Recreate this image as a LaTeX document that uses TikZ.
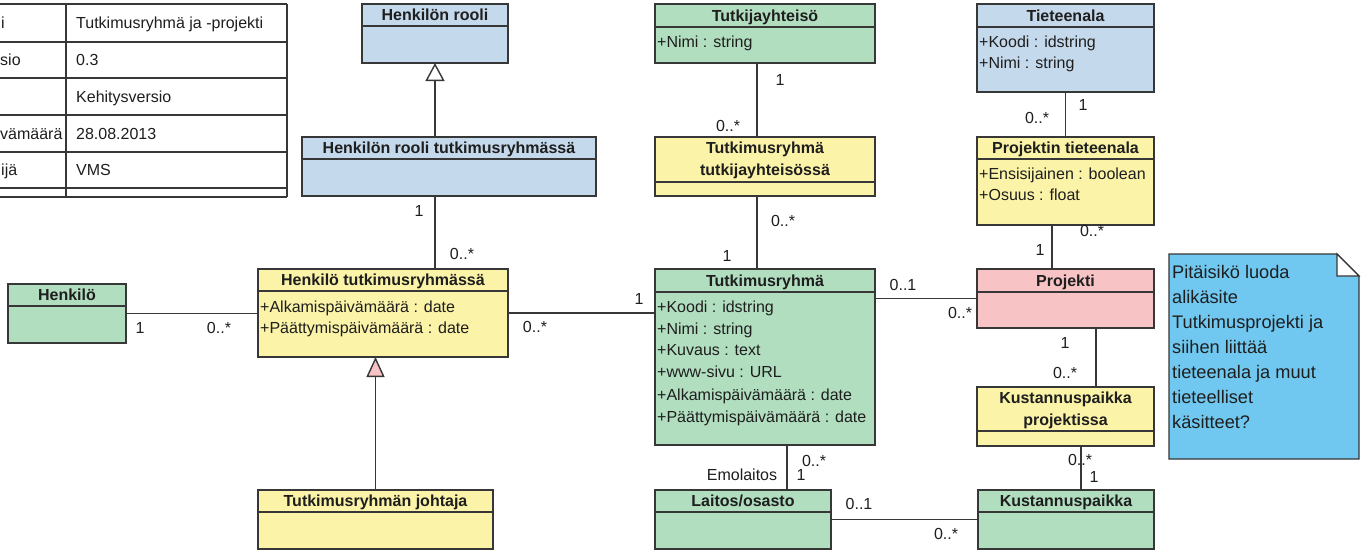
\documentclass[tikz,border=0pt]{standalone}
\usepackage{fontspec}
\setmainfont{Liberation Sans}
\usetikzlibrary{arrows.meta,calc}
\definecolor{cblue}{RGB}{197,217,236}
\definecolor{cgreen}{RGB}{178,222,192}
\definecolor{cyellow}{RGB}{251,243,168}
\definecolor{cpink}{RGB}{248,195,197}
\definecolor{cnote}{RGB}{112,200,240}
\definecolor{cline}{RGB}{55,55,55}
\definecolor{ctext}{RGB}{30,30,30}
\tikzset{
  classbox/.style={draw=cline, line width=1.3pt, inner sep=0pt, outer sep=0pt},
  boxline/.style={draw=cline, line width=1.3pt},
  titletext/.style={font=\fontsize{16}{22}\selectfont\bfseries, text=ctext, inner sep=0pt, text height=11pt, text depth=0pt},
  titletwo/.style={font=\fontsize{16}{22}\selectfont\bfseries, text=ctext, inner sep=0pt, align=center},
  attrtext/.style={font=\fontsize{16}{22}\selectfont, text=ctext, inner sep=0pt, anchor=west, text height=11pt, text depth=0pt},
  mult/.style={font=\fontsize{16}{18}\selectfont, text=ctext, inner sep=0pt, text height=11pt, text depth=0pt},
  assoc/.style={draw=cline, line width=1.4pt},
  tabline/.style={draw=cline, line width=1.3pt},
  notetext/.style={font=\fontsize{18.2}{25}\selectfont, text=ctext, inner sep=0pt, align=left, anchor=north west},
}
% \umlbox{name}{x1}{y1}{x2}{y2}{yheader}{fill}{title}
\newcommand\umlbox[8]{%
  \node[classbox, fill=#7, minimum width={(#4-#2)*1pt}, minimum height={(#5-#3)*1pt}, anchor=north west] (#1) at (#2,#3) {};
  \draw[boxline] (#2,#6) -- (#4,#6);
  \node[titletext] (#1-title) at ({(#2+#4)/2},{(#3+#6)/2}) {#8};
}
\newcommand\umlboxtwo[8]{%
  \node[classbox, fill=#7, minimum width={(#4-#2)*1pt}, minimum height={(#5-#3)*1pt}, anchor=north west] (#1) at (#2,#3) {};
  \draw[boxline] (#2,#6) -- (#4,#6);
  \node[titletwo] (#1-title) at ({(#2+#4)/2},{(#3+#6)/2+1}) {#8};
}
\begin{document}
\begin{tikzpicture}[x=1pt,y=-1pt]
\useasboundingbox (0,0) rectangle (1365,552);
\fill[white] (0,0) rectangle (1365,552);

% ---------- table ----------
\foreach \yy in {4,42,78,115,152,188,197} {\draw[tabline] (0,\yy) -- (287,\yy);}
\draw[tabline] (66,4) -- (66,197);
\draw[tabline] (287,4) -- (287,197);
\node[attrtext] (tl1) at (1,23) {i};
\node[attrtext] (tl2) at (0,60) {sio};
\node[attrtext] (tl4) at (0,133.5) {vämäärä};
\node[attrtext] (tl5) at (1,170) {ijä};
\node[attrtext] (tr1) at (76,23) {Tutkimusryhmä ja -projekti};
\node[attrtext] (tr2) at (76,60) {0.3};
\node[attrtext] (tr3) at (76,96.5) {Kehitysversio};
\node[attrtext] (tr4) at (76,133.5) {28.08.2013};
\node[attrtext] (tr5) at (76,170) {VMS};

% ---------- classes ----------
\umlbox{hr}{362}{4}{508}{63}{26}{cblue}{Henkilön rooli}
\umlbox{hrt}{302}{137}{596}{196}{159}{cblue}{Henkilön rooli tutkimusryhmässä}
\umlbox{henkilo}{8}{284}{126}{343}{306}{cgreen}{Henkilö}
\umlbox{hts}{258}{269}{508}{357}{291}{cyellow}{Henkilö tutkimusryhmässä}
\node[attrtext] (hts-a1) at (260,307) {+Alkamispäivämäärä : date};
\node[attrtext] (hts-a2) at (260,328) {+Päättymispäivämäärä : date};
\umlbox{tj}{258}{490}{493}{549}{512}{cyellow}{Tutkimusryhmän johtaja}

\umlbox{ty}{655}{4}{875}{63}{27}{cgreen}{Tutkijayhteisö}
\node[attrtext] (ty-a1) at (657,42) {+Nimi : string};
\umlboxtwo{trt}{655}{137}{875}{196}{182}{cyellow}{Tutkimusryhmä\\tutkijayhteisössä}
\umlbox{tr}{655}{269}{875}{445}{292}{cgreen}{Tutkimusryhmä}
\node[attrtext] (tr-a1) at (657,307) {+Koodi : idstring};
\node[attrtext] (tr-a2) at (657,328.5) {+Nimi : string};
\node[attrtext] (tr-a3) at (657,350) {+Kuvaus : text};
\node[attrtext] (tr-a4) at (657,372) {+www-sivu : URL};
\node[attrtext] (tr-a5) at (657,394.5) {+Alkamispäivämäärä : date};
\node[attrtext] (tr-a6) at (657,417) {+Päättymispäivämäärä : date};
\umlbox{laitos}{655}{490}{831}{549}{512}{cgreen}{Laitos/osasto}

\umlbox{te}{977}{4}{1154}{92}{27}{cblue}{Tieteenala}
\node[attrtext] (te-a1) at (979,42) {+Koodi : idstring};
\node[attrtext] (te-a2) at (979,63) {+Nimi : string};
\umlbox{pt}{977}{137}{1154}{225}{159}{cyellow}{Projektin tieteenala}
\node[attrtext] (pt-a1) at (979,173.5) {+Ensisijainen : boolean};
\node[attrtext] (pt-a2) at (979,195) {+Osuus : float};
\umlbox{projekti}{977}{269}{1154}{328}{292}{cpink}{Projekti}
\umlboxtwo{kpp}{977}{387}{1154}{446}{431}{cyellow}{Kustannuspaikka\\projektissa}
\umlbox{kp}{978}{490}{1154}{549}{512}{cgreen}{Kustannuspaikka}

% ---------- note ----------
\filldraw[fill=cnote, draw=cline, line width=1.3pt] (1169,254) -- (1337,254) -- (1359,276) -- (1359,459) -- (1169,459) -- cycle;
\filldraw[fill=white, draw=cline, line width=1.1pt] (1337,254) -- (1337,276) -- (1359,276) -- cycle;
\node[notetext] (note) at (1172,265) {Pitäisikö luoda\\alikäsite\\Tutkimusprojekti ja\\siihen liittää\\tieteenala ja muut\\tieteelliset\\käsitteet?};

% ---------- connectors ----------
\draw[assoc, -{Triangle[fill=white, length=18pt, width=19pt]}] (hr.south |- hrt.north) -- (hr.south);
\draw[assoc] (hr.south |- hrt.south) -- (hr.south |- hts.north);
\draw[assoc, -{Triangle[fill=cpink, length=20pt, width=18pt]}] (tj.north) -- (tj.north |- hts.south);
\draw[assoc] (henkilo.east) -- (henkilo.east -| hts.west);
\draw[assoc] (hts.east) -- (hts.east -| tr.west);
\draw[assoc] (projekti.west) -- (projekti.west -| tr.east);
\draw[assoc] (laitos.east) -- (laitos.east -| kp.west);
\coordinate (c1) at ([xshift=-8pt]ty.south);
\draw[assoc] (c1) -- (c1 |- trt.north);
\coordinate (c2) at ([xshift=-8pt]trt.south);
\draw[assoc] (c2) -- (c2 |- tr.north);
\coordinate (c3) at ([xshift=22pt]tr.south);
\draw[assoc] (c3) -- (c3 |- laitos.north);
\draw[assoc] (te.south) -- (te.south |- pt.north);
\coordinate (c4) at ([xshift=-13.5pt]pt.south);
\draw[assoc] (c4) -- (c4 |- projekti.north);
\coordinate (c5) at ([xshift=30.5pt]projekti.south);
\draw[assoc] (c5) -- (c5 |- kpp.north);
\coordinate (c6) at ([xshift=15.5pt]kpp.south);
\draw[assoc] (c6) -- (c6 |- kp.north);

% ---------- multiplicities ----------
\node[mult] (m1) at (419,211) {1};
\node[mult] (m2) at (462,254) {0..*};
\node[mult] (m3) at (140,328) {1};
\node[mult] (m4) at (219,328) {0..*};
\node[mult] (m5) at (535,327) {0..*};
\node[mult] (m6) at (639,299) {1};
\node[mult] (m7) at (780,80) {1};
\node[mult] (m8) at (728,126) {0..*};
\node[mult] (m9) at (783,221) {0..*};
\node[mult] (m10) at (727,256) {1};
\node[mult] (m11) at (903,285) {0..1};
\node[mult] (m12) at (960,313) {0..*};
\node[mult] (m13) at (1083,105) {1};
\node[mult] (m14) at (1037,118) {0..*};
\node[mult] (m15) at (1092,231) {0..*};
\node[mult] (m16) at (1040,250) {1};
\node[mult] (m17) at (1065,343) {1};
\node[mult] (m18) at (1065,373) {0..*};
\node[mult] (m19) at (814,461) {0..*};
\node[mult] (m20) at (801,475) {1};
\node[mult] (m21) at (742,475) {Emolaitos};
\node[mult] (m22) at (859,504) {0..1};
\node[mult] (m23) at (946,534) {0..*};
\node[mult] (m24) at (1080,460) {0..*};
\node[mult] (m25) at (1094,477) {1};
\end{tikzpicture}
\end{document}
